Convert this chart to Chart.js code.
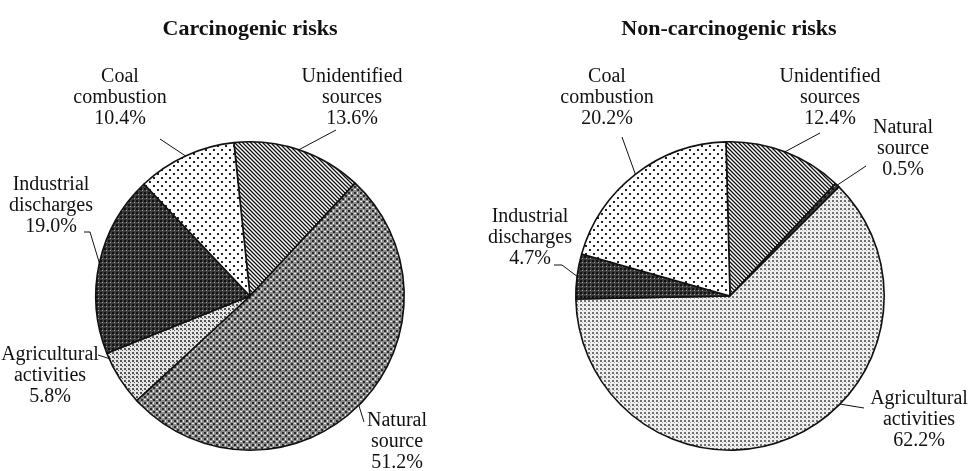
<!DOCTYPE html>
<html>
<head>
<meta charset="utf-8">
<script src="https://cdn.jsdelivr.net/npm/chart.js@4.4.1/dist/chart.umd.min.js"></script>
<style>
  html, body { margin: 0; padding: 0; background: #fff; }
  #wrap { position: relative; width: 969px; height: 471px; }
  .box { position: absolute; top: 0; width: 485px; height: 471px; }
  #leftBox { left: 0; }
  #rightBox { left: 484px; }
</style>
</head>
<body>
<div id="wrap">
  <div class="box" id="leftBox"><canvas id="leftChart"></canvas></div>
  <div class="box" id="rightBox"><canvas id="rightChart"></canvas></div>
</div>
<script>
// 데이터
var sourceLabels = [
  ["Unidentified", "sources"],
  ["Natural", "source"],
  ["Agricultural", "activities"],
  ["Industrial", "discharges"],
  ["Coal", "combustion"],
];
var carcinogenicValues = [13.6, 51.2, 5.8, 19.0, 10.4];
var nonCarcinogenicValues = [12.4, 0.5, 62.2, 4.7, 20.2];

// 패턴 만들기
function makePattern(size, draw) {
  var c = document.createElement("canvas");
  c.width = size;
  c.height = size;
  var g = c.getContext("2d");
  draw(g, size);
  return g.createPattern(c, "repeat");
}

var hatchPattern = makePattern(4, function (g, s) {
  g.fillStyle = "#fff";
  g.fillRect(0, 0, s, s);
  g.strokeStyle = "#111";
  g.lineWidth = 1.3;
  g.beginPath();
  g.moveTo(-1, -1); g.lineTo(s + 1, s + 1);
  g.moveTo(-1, s - 1); g.lineTo(1, s + 1);
  g.moveTo(s - 1, -1); g.lineTo(s + 1, 1);
  g.stroke();
});

var sparseDots = makePattern(8, function (g, s) {
  g.fillStyle = "#fff";
  g.fillRect(0, 0, s, s);
  g.fillStyle = "#222";
  g.fillRect(1, 1, 2, 2);
  g.fillRect(5, 5, 2, 2);
});

var midGrid = makePattern(6, function (g, s) {
  g.fillStyle = "#8a8a8a";
  g.fillRect(0, 0, s, s);
  g.fillStyle = "#2a2a2a";
  g.fillRect(0, 0, 2, 2);
  g.fillRect(3, 3, 2, 2);
  g.fillStyle = "#e8e8e8";
  g.fillRect(3, 0, 1, 2);
  g.fillRect(0, 3, 2, 1);
});

var darkGrid = makePattern(4, function (g, s) {
  g.fillStyle = "#3c3c3c";
  g.fillRect(0, 0, s, s);
  g.fillStyle = "#111";
  g.fillRect(0, 0, 2, 2);
  g.fillStyle = "#a0a0a0";
  g.fillRect(2, 2, 1, 1);
});

var lightDots = makePattern(4, function (g, s) {
  g.fillStyle = "#e6e6e6";
  g.fillRect(0, 0, s, s);
  g.fillStyle = "#555";
  g.fillRect(0, 0, 2, 2);
  g.fillRect(2, 2, 1, 1);
});

var paleDots = makePattern(4, function (g, s) {
  g.fillStyle = "#efefef";
  g.fillRect(0, 0, s, s);
  g.fillStyle = "#707070";
  g.fillRect(0, 0, 2, 2);
  g.fillStyle = "#b0b0b0";
  g.fillRect(2, 2, 1, 1);
});

var LABEL_FONT = '20px "Liberation Serif", "Times New Roman", serif';
var TITLE_FONT = 'bold 22px "Liberation Serif", "Times New Roman", serif';
var LINE_GAP = 21;

// 라벨과 지시선 그리기
var calloutPlugin = {
  id: "callouts",
  afterDraw: function (chart, args, opts) {
    var ctx = chart.ctx;
    var arcs = chart.getDatasetMeta(0).data;
    var values = chart.data.datasets[0].data;
    ctx.save();
    ctx.fillStyle = "#111";
    ctx.textAlign = "center";
    ctx.textBaseline = "alphabetic";
    ctx.font = TITLE_FONT;
    ctx.fillText(opts.title, opts.titleX, 35);
    ctx.font = LABEL_FONT;
    ctx.strokeStyle = "#111";
    ctx.lineWidth = 1;
    opts.items.forEach(function (item, i) {
      var lines = sourceLabels[i].concat([values[i].toFixed(1) + "%"]);
      lines.forEach(function (t, k) {
        ctx.fillText(t, item.x, item.y + k * LINE_GAP);
      });
      var arc = arcs[i];
      var f = item.f === undefined ? 0.5 : item.f;
      var a = arc.startAngle + f * (arc.endAngle - arc.startAngle);
      var px = arc.x + arc.outerRadius * Math.cos(a);
      var py = arc.y + arc.outerRadius * Math.sin(a);
      ctx.beginPath();
      ctx.moveTo(item.path[0][0], item.path[0][1]);
      for (var p = 1; p < item.path.length; p++) ctx.lineTo(item.path[p][0], item.path[p][1]);
      ctx.lineTo(px, py);
      ctx.stroke();
    });
    ctx.restore();
  },
};

function makePie(id, values, fills, rotation, padding, plugOpts) {
  return new Chart(document.getElementById(id), {
    type: "pie",
    data: {
      labels: sourceLabels.map(function (l) { return l.join(" "); }),
      datasets: [{
        data: values,
        backgroundColor: fills,
        borderColor: "#111",
        borderWidth: 1.6,
      }],
    },
    options: {
      responsive: false,
      animation: false,
      rotation: rotation,
      layout: { padding: padding },
      plugins: {
        legend: { display: false },
        tooltip: { enabled: false },
        callouts: plugOpts,
      },
    },
    plugins: [calloutPlugin],
  });
}

var lc = document.getElementById("leftChart");
lc.width = 485; lc.height = 471;
var rc = document.getElementById("rightChart");
rc.width = 485; rc.height = 471;

makePie("leftChart", carcinogenicValues,
  [hatchPattern, midGrid, lightDots, darkGrid, sparseDots],
  -6,
  { left: 95, right: 80, top: 141, bottom: 20 },
  {
    title: "Carcinogenic risks", titleX: 250,
    items: [
      { x: 352, y: 82, path: [[336, 130]] },
      { x: 397, y: 426, path: [[364, 422]], f: 0.5 },
      { x: 50, y: 360, path: [[98, 355]], f: 0.9 },
      { x: 51, y: 190, path: [[84, 232], [90, 232]], f: 0.5 },
      { x: 120, y: 82, path: [[160, 139]] },
    ],
  });

makePie("rightChart", nonCarcinogenicValues,
  [hatchPattern, darkGrid, paleDots, darkGrid, sparseDots],
  -1.5,
  { left: 91, right: 84, top: 141, bottom: 20 },
  {
    title: "Non-carcinogenic risks", titleX: 245,
    items: [
      { x: 346, y: 82, path: [[336, 133]] },
      { x: 419, y: 133, path: [[382, 166]] },
      { x: 435, y: 404, path: [[380, 408]], f: 0.4 },
      { x: 46, y: 222, path: [[70, 265], [78, 265]] },
      { x: 123, y: 82, path: [[138, 137]] },
    ],
  });
</script>
</body>
</html>
